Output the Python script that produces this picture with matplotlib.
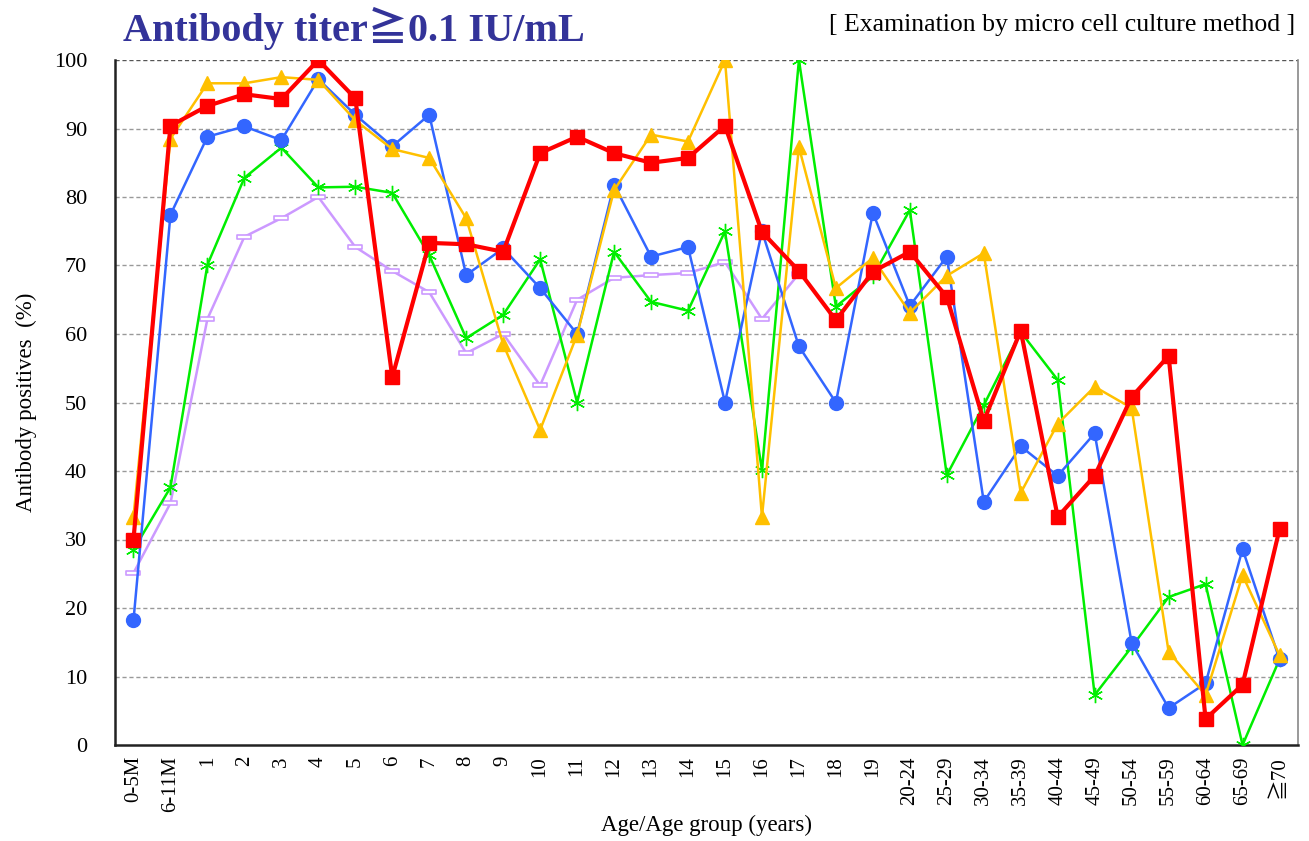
import matplotlib
matplotlib.use("Agg")
import matplotlib.pyplot as plt
import numpy as np
from matplotlib.path import Path

categories = ["0-5M", "6-11M", "1", "2", "3", "4", "5", "6", "7", "8", "9", "10",
              "11", "12", "13", "14", "15", "16", "17", "18", "19", "20-24", "25-29",
              "30-34", "35-39", "40-44", "45-49", "50-54", "55-59", "60-64", "65-69", "≧70"]

blue = [18.2, 77.4, 88.8, 90.3, 88.3, 97.2, 92.0, 87.4, 92.0, 68.6, 72.5, 66.7,
        60.0, 81.8, 71.3, 72.7, 50.0, 75.0, 58.2, 50.0, 77.7, 64.1, 71.3,
        35.5, 43.6, 39.3, 45.5, 14.9, 5.4, 9.0, 28.6, 12.5]
green = [28.5, 37.6, 70.1, 82.8, 87.2, 81.4, 81.5, 80.6, 71.5, 59.4, 62.8, 70.9,
         50.0, 72.0, 64.7, 63.4, 75.0, 40.1, 100.0, 64.0, 68.4, 78.1, 39.4,
         49.6, 60.3, 53.3, 7.3, 14.3, 21.6, 23.5, 0.0, 12.5]
yellow = [33.3, 88.5, 96.6, 96.6, 97.5, 97.1, 91.2, 87.0, 85.7, 76.9, 58.5, 46.0,
          59.9, 81.0, 89.1, 88.1, 100.0, 33.3, 87.3, 66.7, 71.1, 63.1, 68.5,
          71.8, 36.8, 46.9, 52.3, 49.2, 13.6, 7.3, 24.8, 13.1]
lavender = [25.1, 35.3, 62.2, 74.2, 76.9, 80.0, 72.7, 69.2, 66.1, 57.2, 60.0, 52.5,
            65.0, 68.2, 68.6, 68.9, 70.5, 62.2, 68.8] + [np.nan] * 13
red = [30.0, 90.4, 93.3, 95.0, 94.3, 100.0, 94.4, 53.7, 73.3, 73.1, 72.0, 86.4,
       88.8, 86.4, 85.0, 85.7, 90.4, 74.9, 69.2, 62.0, 69.1, 72.0, 65.4,
       47.3, 60.5, 33.3, 39.3, 50.8, 56.8, 3.8, 8.8, 31.5]
yticks = list(range(0, 101, 10))

serif = ["Liberation Serif", "DejaVu Serif", "Noto Sans CJK JP"]
plt.rcParams["font.family"] = serif

fig = plt.figure(figsize=(13.09, 8.41), dpi=100)
ax = fig.add_axes([115/1309, 96/841, (1298-115)/1309, (745-60)/841])

x = np.arange(len(categories))

rect = Path([(-1, -0.32), (1, -0.32), (1, 0.32), (-1, 0.32), (-1, -0.32)],
            [Path.MOVETO, Path.LINETO, Path.LINETO, Path.LINETO, Path.CLOSEPOLY])

ax.plot(x, lavender, color="#CC99FF", lw=1.8, marker=rect, ms=10, mfc="white",
        mec="#CC99FF", mew=1.2, zorder=3)
ax.plot(x, green, color="#00EE00", lw=1.8, marker=(6, 2, 0), ms=11, mec="#00EE00",
        mew=1.0, zorder=4)
ax.plot(x, blue, color="#3366FF", lw=1.8, marker="o", ms=10, mec="#3366FF", zorder=5)
ax.plot(x, yellow, color="#FFC000", lw=1.8, marker="^", ms=10, mec="#FFC000", zorder=6)
ax.plot(x, red, color="#FF0000", lw=3.0, marker="s", ms=9.5, mec="#FF0000", zorder=7)

ax.set_xlim(-0.5, len(categories) - 0.5)
ax.set_ylim(0, 100)
ax.set_yticks(yticks)
ax.set_yticklabels([str(v) for v in yticks], fontsize=16)
ax.set_xticks(x)
ax.set_xticklabels(categories, rotation=90, fontsize=15)
ax.tick_params(axis="y", length=0, pad=20)
ax.tick_params(axis="x", length=0, pad=8)

for v in yticks[1:]:
    ax.axhline(v, color="#555555" if v == 100 else "#999999", lw=1.0,
               ls=(0, (3, 2)), zorder=1)

ax.spines["top"].set_visible(False)
ax.spines["left"].set_linewidth(1.8)
ax.spines["left"].set_color("#222222")
ax.spines["bottom"].set_linewidth(1.8)
ax.spines["bottom"].set_color("#222222")
ax.spines["right"].set_color("#888888")
ax.spines["right"].set_linewidth(1.2)

ax.set_ylabel("Antibody positives  (%)", fontsize=16.5, labelpad=12)
ax.set_xlabel("Age/Age group (years)", fontsize=16.5, labelpad=2)

fig.text(123/1309, 1 - 28/841, "Antibody titer≧0.1 IU/mL", fontsize=29, fontweight="bold",
         color="#333399", va="center", ha="left")
fig.text(1295/1309, 1 - 25/841, "[ Examination by micro cell culture method ]",
         fontsize=18.5, color="black", va="center", ha="right")

fig.savefig("out.png", dpi=100)
